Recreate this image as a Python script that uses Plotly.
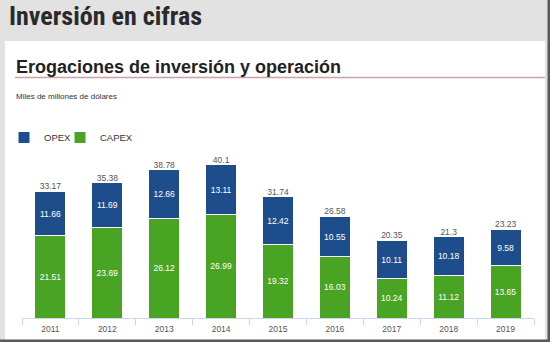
import plotly.graph_objects as go

# Data (billions of dollars)
years = ["2011", "2012", "2013", "2014", "2015", "2016", "2017", "2018", "2019"]
opex = [11.66, 11.69, 12.66, 13.11, 12.42, 10.55, 10.11, 10.18, 9.58]
capex = [21.51, 23.69, 26.12, 26.99, 19.32, 16.03, 10.24, 11.12, 13.65]
totals = [33.17, 35.38, 38.78, 40.1, 31.74, 26.58, 20.35, 21.3, 23.23]

W, H = 550, 342
ML, MR, MT, MB = 22, 16, 150, 24
PW, PH = W - ML - MR, H - MT - MB


def fx(px):
    return (px - ML) / PW


def fy(py):
    return (H - MB - py) / PH


BLUE = "#1d4e8b"
GREEN = "#49a424"
FONT = "Liberation Sans, Arial, sans-serif"

fig = go.Figure()
fig.add_trace(go.Bar(
    name="CAPEX", x=years, y=capex, marker=dict(color=GREEN, line=dict(color="white", width=1)),
    text=[f"{v:.2f}" for v in capex], textposition="inside", insidetextanchor="middle",
    textfont=dict(color="white", size=8.5, family=FONT), textangle=0, legend="legend2",
))
fig.add_trace(go.Bar(
    name="OPEX", x=years, y=opex, marker=dict(color=BLUE, line=dict(color="white", width=1)),
    text=[f"{v:.2f}" for v in opex], textposition="inside", insidetextanchor="middle",
    textfont=dict(color="white", size=8.5, family=FONT), textangle=0, legend="legend",
))
fig.add_trace(go.Scatter(
    x=years, y=totals, mode="text", text=[f"{v:g}" for v in totals],
    textposition="top center", textfont=dict(color="#555555", size=8.5, family=FONT),
    showlegend=False, cliponaxis=False, hoverinfo="skip",
))

shapes = [
    # white card
    dict(type="rect", xref="paper", yref="paper", x0=fx(5), x1=fx(545), y0=fy(342), y1=fy(41),
         fillcolor="white", line=dict(width=0), layer="below"),
    # right frame edge
    dict(type="rect", xref="paper", yref="paper", x0=fx(547.5), x1=fx(550), y0=fy(342), y1=fy(0),
         fillcolor="#5a5a5a", line=dict(width=0), layer="below"),
    # bottom frame edge
    dict(type="rect", xref="paper", yref="paper", x0=fx(0), x1=fx(550), y0=fy(342), y1=fy(339.5),
         fillcolor="#5a5a5a", line=dict(width=0), layer="below"),
    # heading underline
    dict(type="line", xref="paper", yref="paper", x0=fx(15), x1=fx(545), y0=fy(77.5), y1=fy(77.5),
         line=dict(color="#c9a3aa", width=1.5)),
]

annotations = [
    dict(text="<b>Inversión en cifras</b>",
         xref="paper", yref="paper", x=fx(7), y=fy(15.5),
         xanchor="left", yanchor="middle", showarrow=False,
         font=dict(family="Noto Sans Condensed, Roboto Condensed, Open Sans Condensed, Liberation Sans Narrow",
                   size=26, color="#2a2a2a")),
    dict(text="<b>Erogaciones de inversión y operación</b>", xref="paper", yref="paper", x=fx(14), y=fy(66.5),
         xanchor="left", yanchor="middle", showarrow=False,
         font=dict(family=FONT, size=18, color="#222222")),
    dict(text="Miles de millones de dólares", xref="paper", yref="paper", x=fx(14), y=fy(96),
         xanchor="left", yanchor="middle", showarrow=False,
         font=dict(family=FONT, size=8, color="#333333")),
]

legend_style = dict(orientation="h", xanchor="left", yanchor="top", y=fy(123),
                    font=dict(family=FONT, size=9.5, color="#333333"),
                    bgcolor="rgba(0,0,0,0)", itemwidth=30)

fig.update_layout(
    width=W, height=H, margin=dict(l=ML, r=MR, t=MT, b=MB, autoexpand=False),
    paper_bgcolor="#e2e2e2", plot_bgcolor="rgba(0,0,0,0)",
    barmode="stack", bargap=0.455,
    shapes=shapes, annotations=annotations,
    showlegend=True,
    legend=dict(legend_style, x=fx(4)),
    legend2=dict(legend_style, x=fx(60)),
    xaxis=dict(type="category", showline=True, linecolor="#ccd6eb", linewidth=1,
               ticks="outside", tickson="boundaries", ticklen=6, tickcolor="#ccd6eb",
               ticklabelstandoff=3,
               tickfont=dict(family=FONT, size=8.5, color="#555555"), showgrid=False,
               fixedrange=True),
    yaxis=dict(range=[0, 44], visible=False, showgrid=False, fixedrange=True),
    font=dict(family=FONT),
)

fig.write_html("out.html", config={"displayModeBar": False})
